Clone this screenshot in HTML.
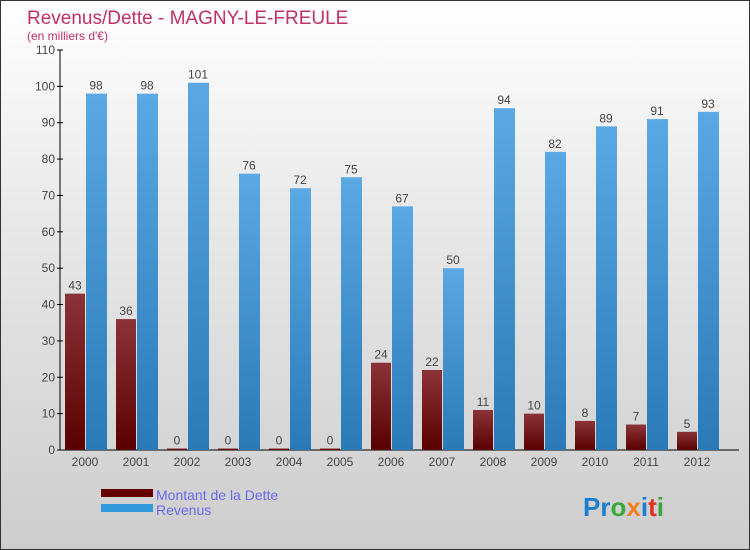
<!DOCTYPE html>
<html><head><meta charset="utf-8"><style>
body{margin:0}
#c{width:748px;height:548px;border:1px solid #333;background:linear-gradient(#fff,#e8e8e8 40%,#cdcdcd);position:relative;font-family:"Liberation Sans",sans-serif;overflow:hidden}
svg text{font-family:"Liberation Sans",sans-serif}
</style></head><body>
<div id="c">
<svg id="s" width="748" height="548">
<defs>
<linearGradient id="gd" x1="0" y1="0" x2="0" y2="1"><stop offset="0" stop-color="#8b3338"/><stop offset="1" stop-color="#5a0000"/></linearGradient>
<linearGradient id="gr" x1="0" y1="0" x2="0" y2="1"><stop offset="0" stop-color="#5aa9e4"/><stop offset="1" stop-color="#2a7ab8"/></linearGradient>
</defs>
<text x="26" y="23" font-size="19" fill="#c0306a">Revenus/Dette - MAGNY-LE-FREULE</text>
<text x="26" y="39" font-size="12" fill="#c0306a">(en milliers d'€)</text>
<g id="g"></g>
<rect x="100" y="488" width="52" height="8" fill="#660000"/>
<text x="155" y="499" font-size="14" fill="#6a6aee">Montant de la Dette</text>
<rect x="100" y="503" width="52" height="8" fill="#3399dd"/>
<text x="155" y="514" font-size="14" fill="#6a6aee">Revenus</text>
<text x="582" y="515" font-size="26" font-weight="bold"><tspan fill="#1a7fd0">Pr</tspan><tspan fill="#3aa83a">o</tspan><tspan fill="#f08020">x</tspan><tspan fill="#1a7fd0">i</tspan><tspan fill="#e03020">t</tspan><tspan fill="#3aa83a">i</tspan></text>
</svg></div>
<script>
const years=["2000","2001","2002","2003","2004","2005","2006","2007","2008","2009","2010","2011","2012"];
const dette=[43,36,0,0,0,0,24,22,11,10,8,7,5];
const revenus=[98,98,101,76,72,75,67,50,94,82,89,91,93];
const ticks=[0,10,20,30,40,50,60,70,80,90,100,110];
const NS="http://www.w3.org/2000/svg";
const g=document.getElementById('g');
const y0=449,yTop=49,ymax=110;
const y=v=>y0-(y0-yTop)*v/ymax;
const x=i=>84+i*51;
function mk(t,a,txt){const e=document.createElementNS(NS,t);for(const k in a)e.setAttribute(k,a[k]);if(txt!=null)e.textContent=txt;g.appendChild(e);return e;}
let ax=mk('line',{x1:59,y1:yTop,x2:59,y2:y0,stroke:'#000'});


let bx=mk('line',{x1:59,y1:y0,x2:738,y2:y0,stroke:'#000'});


ticks.forEach(t=>{
 let l=mk('line',{x1:56,y1:y(t),x2:62,y2:y(t),stroke:'#000'});
 
 
 let tx=mk('text',{x:54,y:y(t)+4,'font-size':12,fill:'#444','text-anchor':'end'},t);
 
 
});
years.forEach((yr,i)=>{
 const cx=x(i);
 let hd=Math.max(y0-y(dette[i]),1.5);
 let d=mk('rect',{x:cx-20,y:y0-hd,width:20,height:hd,fill:'url(#gd)'});
 
 
 let r=mk('rect',{x:cx+1,y:y(revenus[i]),width:21,height:y0-y(revenus[i]),fill:'url(#gr)'});
 
 
 let ld=mk('text',{x:cx-10,y:y0-hd-4,'font-size':12,fill:'#444','text-anchor':'middle'},dette[i]);
 
 
 let lr=mk('text',{x:cx+11,y:y(revenus[i])-4,'font-size':12,fill:'#444','text-anchor':'middle'},revenus[i]);
 
 
 let xl=mk('text',{x:cx,y:465,'font-size':12,fill:'#444','text-anchor':'middle'},yr);
 
 
});
</script>
</body></html>
